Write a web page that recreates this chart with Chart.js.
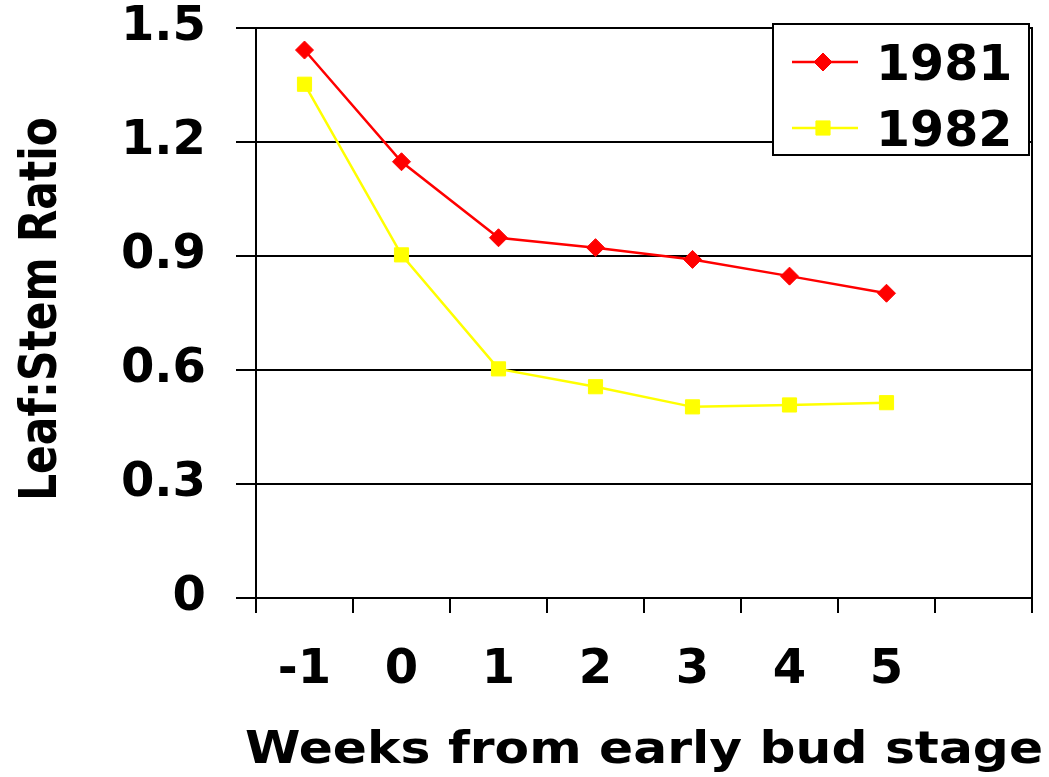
<!DOCTYPE html>
<html>
<head>
<meta charset="utf-8">
<script src="https://cdn.jsdelivr.net/npm/chart.js@4.4.1/dist/chart.umd.min.js"></script>
<style>
  html, body { margin: 0; padding: 0; background: #fff; }
  #wrap { width: 1049px; height: 777px; }
</style>
</head>
<body>
<div id="wrap"><canvas id="leafChart" width="1049" height="777"></canvas></div>
<script>
// data
const weeks = ["-1", "0", "1", "2", "3", "4", "5", ""];
const ratio1981 = [1.442, 1.148, 0.948, 0.922, 0.891, 0.847, 0.802];
const ratio1982 = [1.352, 0.903, 0.603, 0.556, 0.503, 0.508, 0.514];
const yTickLabels = ["0", "0.3", "0.6", "0.9", "1.2", "1.5"];
const seriesNames = ["1981", "1982"];
const yTitle = "Leaf:Stem Ratio";
const xTitle = "Weeks from early bud stage";

const FONT = "'DejaVu Sans', Verdana, sans-serif";
Chart.defaults.font.family = FONT;
Chart.defaults.color = "#000";

// ======================
// frame, titles + boxed legend
// ======================
const extrasPlugin = {
  id: "extras",
  beforeDatasetsDraw(chart) {
    const { ctx, chartArea } = chart;
    // right edge of the plot frame
    ctx.save();
    ctx.strokeStyle = "#000";
    ctx.lineWidth = 2;
    ctx.beginPath();
    ctx.moveTo(chartArea.right, chartArea.top - 1);
    ctx.lineTo(chartArea.right, chartArea.bottom + 15);
    ctx.stroke();
    ctx.restore();
  },
  afterDraw(chart) {
    const { ctx, chartArea } = chart;
    ctx.save();
    ctx.fillStyle = "#000";

    // y title, squeezed like the original
    ctx.save();
    ctx.font = "bold 51px " + FONT;
    const yw = ctx.measureText(yTitle).width;
    ctx.translate(56, 309);
    ctx.rotate(-Math.PI / 2);
    ctx.scale(384 / yw, 1);
    ctx.textAlign = "center";
    ctx.textBaseline = "alphabetic";
    ctx.fillText(yTitle, 0, 0);
    ctx.restore();

    // x title
    ctx.save();
    ctx.font = "bold 44px " + FONT;
    const xw = ctx.measureText(xTitle).width;
    ctx.translate(644, 763);
    ctx.scale(798 / xw, 1);
    ctx.textAlign = "center";
    ctx.textBaseline = "alphabetic";
    ctx.fillText(xTitle, 0, 0);
    ctx.restore();

    // legend box
    const left = chartArea.right - 259;
    const top = chartArea.top - 4;
    ctx.fillStyle = "#fff";
    ctx.fillRect(left, top, 256, 131);
    ctx.strokeStyle = "#000";
    ctx.lineWidth = 2;
    ctx.strokeRect(left, top, 256, 131);

    chart.data.datasets.forEach((ds, i) => {
      const y = top + 38 + i * 66;
      ctx.strokeStyle = ds.borderColor;
      ctx.lineWidth = ds.borderWidth;
      ctx.beginPath();
      ctx.moveTo(left + 19, y);
      ctx.lineTo(left + 85, y);
      ctx.stroke();

      ctx.fillStyle = ds.pointBackgroundColor;
      ctx.strokeStyle = ds.pointBorderColor;
      ctx.lineWidth = ds.pointBorderWidth;
      Chart.helpers.drawPoint(ctx, {
        pointStyle: ds.pointStyle,
        radius: ds.pointRadius,
        rotation: 0,
        borderWidth: ds.pointBorderWidth
      }, left + 50, y);

      ctx.fillStyle = "#000";
      ctx.font = "bold 49px " + FONT;
      ctx.textAlign = "left";
      ctx.textBaseline = "alphabetic";
      ctx.fillText(ds.label, left + 103, y + 18);
    });

    ctx.restore();
  }
};

const ctx = document.getElementById("leafChart").getContext("2d");

new Chart(ctx, {
  type: "line",
  data: {
    labels: weeks,
    datasets: [
      {
        label: seriesNames[0],
        data: ratio1981,
        borderColor: "#ff0000",
        backgroundColor: "#ff0000",
        borderWidth: 2.5,
        tension: 0,
        pointStyle: "rectRot",
        pointRadius: 9,
        pointBackgroundColor: "#ff0000",
        pointBorderColor: "#ff0000",
        pointBorderWidth: 1
      },
      {
        label: seriesNames[1],
        data: ratio1982,
        borderColor: "#ffff00",
        backgroundColor: "#ffff00",
        borderWidth: 2.5,
        tension: 0,
        pointStyle: "rect",
        pointRadius: 10,
        pointBackgroundColor: "#ffff00",
        pointBorderColor: "#ffff00",
        pointBorderWidth: 1
      }
    ]
  },
  options: {
    responsive: false,
    devicePixelRatio: 1,
    animation: false,
    layout: { padding: { top: 28, right: 17, left: 0, bottom: 0 } },
    plugins: {
      legend: { display: false },
      tooltip: { enabled: false }
    },
    scales: {
      x: {
        type: "category",
        offset: true,
        grid: {
          offset: true,
          drawOnChartArea: false,
          color: "#000",
          lineWidth: 2,
          tickLength: 15
        },
        border: { display: true, color: "#000", width: 2 },
        ticks: {
          font: { size: 48, weight: "bold", lineHeight: 1 },
          color: "#000",
          padding: 34,
          maxRotation: 0,
          autoSkip: false
        },
        afterFit(scale) {
          scale.height = 179;
          scale.paddingLeft = 0;
          scale.paddingRight = 0;
        }
      },
      y: {
        min: 0,
        max: 1.5,
        grid: {
          color: "#000",
          lineWidth: 2,
          tickLength: 20
        },
        border: { display: true, color: "#000", width: 2 },
        ticks: {
          stepSize: 0.3,
          font: { size: 48, weight: "bold", lineHeight: 1 },
          color: "#000",
          padding: 30,
          callback: (v, i) => yTickLabels[i]
        },
        afterFit(scale) {
          scale.width = 256;
          scale.paddingTop = 0;
          scale.paddingBottom = 0;
        }
      }
    }
  },
  plugins: [extrasPlugin]
});
</script>
</body>
</html>
